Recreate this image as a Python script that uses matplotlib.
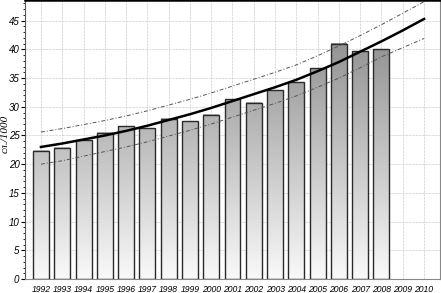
import numpy as np
import matplotlib
matplotlib.use('Agg')
import matplotlib.pyplot as plt
from matplotlib.colors import LinearSegmentedColormap

# years on the axis and measured values (bars stop at 2008)
years = list(range(1992, 2011))
bar_years = list(range(1992, 2009))
values = [22.3, 22.9, 24.2, 25.5, 26.6, 26.3, 27.9, 27.5, 28.6,
          31.3, 30.7, 32.9, 34.3, 36.7, 41.0, 39.7, 40.0]

# fitted trend with upper / lower band
trend = [23.0, 23.6, 24.3, 25.0, 25.8, 26.7, 27.7, 28.7, 29.8, 31.0,
         32.2, 33.4, 34.7, 36.2, 37.8, 39.6, 41.4, 43.3, 45.3]
upper = [25.6, 26.2, 26.9, 27.6, 28.4, 29.3, 30.3, 31.3, 32.4, 33.6,
         34.8, 36.0, 37.3, 38.9, 40.6, 42.4, 44.3, 46.3, 48.3]
lower = [20.0, 20.6, 21.4, 22.2, 23.0, 23.9, 24.9, 25.9, 27.0, 28.2,
         29.4, 30.6, 31.9, 33.4, 35.0, 36.8, 38.7, 40.3, 41.9]

sans = ['Liberation Sans', 'DejaVu Sans']

fig = plt.figure(figsize=(4.41, 2.93), dpi=100)
ax = fig.add_axes([25 / 441, 14 / 293, 415 / 441, 279 / 293])

ymax = 48.6
cmap = LinearSegmentedColormap.from_list('bar', ['#f9f9f9', '#8a8a8a'])
width = 0.75

bars = ax.bar(bar_years, values, width=width, facecolor='none',
              edgecolor='#2a2a2a', linewidth=1.0, zorder=3)
for b in bars:
    x0 = b.get_x()
    h = b.get_height()
    grad = np.linspace(0, h, 200).reshape(-1, 1)
    ax.imshow(grad, extent=[x0, x0 + width, 0, h], origin='lower',
              aspect='auto', cmap=cmap, vmin=0, vmax=45, zorder=2)

ax.plot(years, upper, color='#555555', linewidth=0.7,
        linestyle=(0, (4, 2, 1, 2)), zorder=4)
ax.plot(years, lower, color='#555555', linewidth=0.7,
        linestyle=(0, (4, 2, 1, 2)), zorder=4)
ax.plot(years, trend, color='black', linewidth=1.8, zorder=5)

ax.set_xlim(1991.25, 2010.75)
ax.set_ylim(0, ymax)
ax.set_xticks(years)
ax.set_xticklabels([str(y) for y in years], family=sans,
                   fontstyle='italic', fontsize=6.2)
ax.set_yticks(range(0, 50, 5))
ax.set_yticklabels([str(v) for v in range(0, 50, 5)], family=sans,
                   fontstyle='italic', fontsize=7)
ax.set_yticks(range(0, 49), minor=True)
ax.tick_params(axis='x', length=0, pad=4)
ax.tick_params(axis='y', which='major', length=3, pad=1)
ax.tick_params(axis='y', which='minor', length=1.5)

ax.grid(True, color='#d6d6d6', linewidth=0.6, linestyle=(0, (3, 1)), zorder=0)
ax.set_axisbelow(True)

ax.spines['top'].set_linewidth(1.8)
ax.spines['right'].set_color('#888888')
ax.spines['left'].set_color('#555555')
ax.spines['bottom'].set_color('#888888')

ax.set_ylabel('сл./1000', family='Liberation Serif', fontstyle='italic',
              fontsize=8)
ax.yaxis.set_label_coords(-0.036, 0.52)

fig.savefig('out.png', dpi=100)
